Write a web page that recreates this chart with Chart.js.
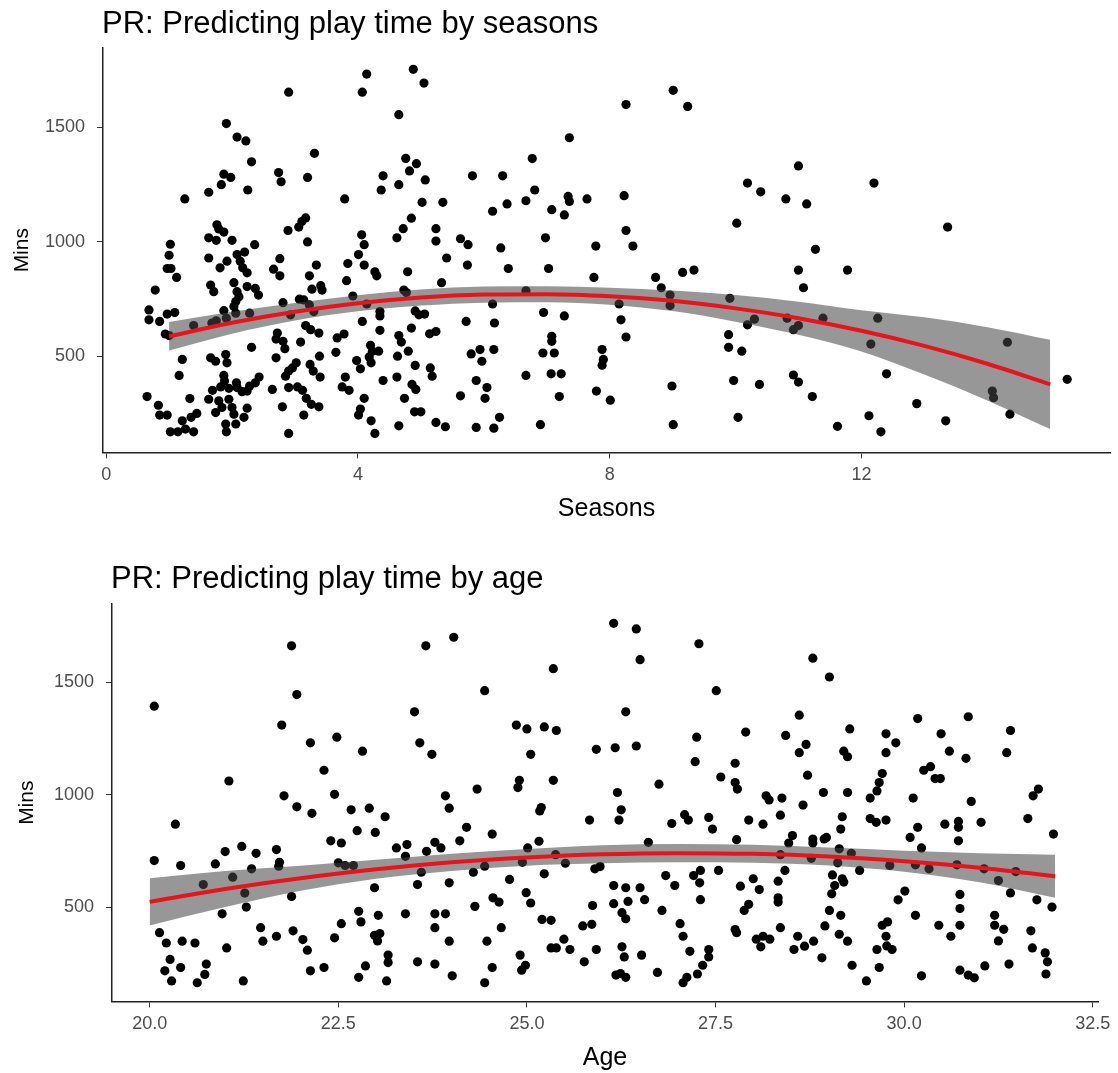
<!DOCTYPE html>
<html>
<head>
<meta charset="utf-8">
<script src="https://cdn.jsdelivr.net/npm/chart.js@4"></script>
<style>
	body { margin: 0; background: #fff; }
	.plot { position: absolute; left: 0; width: 1118px; }
	#seasonsPlot { top: 0; height: 530px; }
	#agePlot { top: 540px; height: 533px; }
</style>
</head>
<body>
<div class="plot" id="seasonsPlot"><canvas id="seasonsChart"></canvas></div>
<div class="plot" id="agePlot"><canvas id="ageChart"></canvas></div>
<script>
// [seasons, mins]
const seasonPoints = [
	[2.90,1653],[1.91,1516],[2.08,1457],[2.22,1440],[2.31,1349],[1.87,1295],[1.98,1281],[1.83,1249],[1.63,1216],[2.25,1226],
	[2.74,1302],[2.78,1262],[1.25,1187],[1.76,1074],[1.79,1056],[1.87,1042],[1.63,1017],[1.75,1006],[2.00,1006],[2.36,987],
	[1.02,989],[1.00,941],[1.63,929],[1.92,915],[1.81,886],[2.08,944],[2.20,955],[2.13,915],[2.17,886],[2.24,864],
	[0.97,883],[1.03,883],[1.12,844],[2.76,926],[2.66,880],[2.76,851],[2.89,1049],[0.78,789],[1.66,811],[1.71,782],
	[2.03,821],[2.08,782],[2.11,760],[2.24,804],[2.37,796],[2.42,767],[2.06,739],[2.03,717],[2.81,734],[0.68,702],
	[0.68,659],[0.85,652],[0.97,684],[1.09,691],[1.87,699],[1.75,655],[1.68,645],[1.91,666],[2.06,688],[2.28,688],
	[1.39,634],[0.94,597],[1.00,590],[2.72,601],[2.70,575],[2.81,565],[2.84,533],[2.31,539],[1.21,486],[1.66,493],
	[1.74,478],[1.90,507],[1.92,471],[2.70,493],[1.16,416],[1.87,416],[1.88,392],[2.43,409],[2.37,384],[2.28,370],
	[2.24,348],[2.16,345],[2.07,384],[2.08,363],[1.95,360],[1.82,366],[1.69,351],[1.63,312],[1.79,305],[1.95,312],
	[2.00,276],[2.24,273],[2.64,355],[2.90,435],[2.85,413],[2.90,363],[2.80,279],[0.65,324],[0.83,286],[0.85,243],
	[0.97,243],[1.33,315],[1.44,250],[1.35,233],[1.21,218],[1.02,170],[1.14,170],[1.26,182],[1.39,170],[1.74,254],
	[1.84,276],[1.90,204],[1.91,170],[2.06,204],[2.03,247],[2.19,233],[2.90,163],
	[4.14,1732],[4.07,1653],[4.88,1753],[5.05,1693],[4.65,1555],[3.31,1386],[3.20,1281],[4.76,1364],[4.93,1341],[4.82,1309],
	[5.07,1270],[4.40,1288],[4.37,1226],[4.65,1249],[5.82,1288],[3.79,1187],[5.02,1172],[5.35,1172],[3.17,1104],[3.11,1088],
	[3.06,1064],[4.85,1103],[4.72,1057],[4.62,1017],[5.24,1057],[5.24,1003],[5.63,1013],[5.75,987],[4.06,1030],[4.10,987],
	[4.01,944],[3.20,999],[5.41,929],[5.74,898],[3.34,898],[3.84,905],[4.10,898],[3.23,851],[3.27,793],[3.41,808],
	[3.43,789],[3.82,830],[4.27,869],[4.30,851],[4.79,869],[5.33,821],[3.07,749],[3.14,746],[3.23,724],[3.30,695],
	[3.92,763],[4.14,728],[4.73,789],[4.77,778],[4.91,698],[4.97,681],[5.06,684],[4.35,695],[4.35,676],[4.07,652],
	[5.72,652],[2.93,681],[3.17,634],[3.25,616],[3.38,601],[3.09,562],[3.67,580],[3.78,597],[4.35,613],[4.65,590],
	[4.69,562],[4.85,623],[5.14,598],[5.24,608],[3.65,517],[3.39,500],[4.20,548],[4.23,522],[4.33,522],[4.63,500],
	[4.80,522],[4.18,497],[4.21,471],[3.98,481],[4.04,445],[3.02,471],[2.96,449],[3.24,464],[3.29,435],[3.40,409],
	[3.80,409],[4.40,394],[4.62,409],[4.91,460],[5.15,449],[5.18,413],[5.80,510],[5.88,394],[3.04,366],[3.12,351],
	[3.18,316],[3.26,290],[3.38,279],[3.14,243],[3.75,366],[3.86,351],[4.10,316],[4.04,269],[4.01,243],[4.21,218],
	[4.27,163],[4.74,316],[4.86,377],[4.92,355],[4.90,257],[5.00,257],[4.65,196],[5.24,211],[5.39,192],[5.63,327],
	[5.88,189],
	[8.26,1599],[7.36,1454],[6.77,1363],[6.30,1288],[6.81,1226],[6.37,1165],[6.67,1179],[6.14,1133],[7.08,1140],[7.34,1198],
	[7.36,1176],[7.28,1117],[7.64,1187],[8.23,1201],[8.26,1049],[8.37,981],[6.98,1017],[6.27,973],[7.78,981],[6.39,883],
	[7.03,883],[7.75,844],[8.73,844],[8.82,799],[6.67,786],[6.14,728],[6.17,645],[6.95,691],[7.28,676],[8.15,728],
	[8.18,659],[8.26,584],[7.08,587],[7.08,565],[5.94,529],[5.97,478],[6.16,529],[6.94,514],[7.12,514],[7.88,529],
	[7.90,486],[7.88,461],[6.67,416],[7.07,423],[7.23,423],[6.05,363],[6.02,316],[7.20,324],[7.79,348],[8.01,308],
	[6.25,233],[6.16,186],[6.90,201],
	[9.01,1661],[9.24,1591],[11.00,1331],[10.19,1256],[10.40,1218],[10.80,1187],[11.13,1165],[10.02,1081],[11.27,967],[9.16,866],
	[9.34,876],[11.00,876],[11.78,876],[11.08,799],[8.96,767],[8.96,721],[9.91,753],[10.30,662],[10.19,637],[10.82,666],
	[11.00,634],[10.92,616],[11.39,666],[9.89,594],[9.89,539],[10.10,522],[8.99,370],[9.97,394],[10.38,377],[10.92,418],
	[11.00,387],[11.22,324],[9.01,201],[10.04,233],[11.62,194],
	[12.20,1256],[13.37,1064],[12.26,666],[12.15,553],[12.40,423],[14.32,561],[15.27,399],[14.08,348],[14.10,319],[12.88,293],
	[12.12,240],[12.31,170],[13.34,218],[14.36,247]
];

// [age, mins]
const agePoints = [
	[20.06,1394],[21.88,1663],[21.75,1310],[21.05,1061],[21.78,995],[20.34,869],[20.06,707],[20.41,685],[20.87,692],[21.00,747],
	[21.22,770],[21.41,739],[21.68,756],[21.72,699],[21.71,682],[21.35,670],[21.10,633],[20.71,600],[21.26,562],[21.88,547],
	[21.28,500],[20.96,470],[20.13,386],[20.22,340],[20.43,348],[20.60,340],[21.02,318],[21.47,408],[21.50,348],[21.68,370],
	[21.90,394],[20.27,267],[20.20,216],[20.41,231],[20.29,171],[20.75,246],[20.73,200],[20.63,163],[21.24,171],
	[21.95,1446],[23.66,1663],[24.03,1701],[23.51,1369],[22.48,1256],[22.13,1231],[23.58,1231],[22.82,1194],[23.74,1180],[22.31,1109],
	[22.45,1002],[21.95,946],[22.15,917],[22.67,933],[22.91,940],[23.12,902],[22.75,840],[22.99,832],[23.92,995],[23.97,940],
	[24.34,1025],[24.20,855],[22.40,795],[22.54,785],[23.27,763],[23.41,778],[23.39,726],[23.67,748],[23.78,788],[23.86,763],
	[24.11,795],[22.50,697],[22.59,685],[22.70,685],[23.60,655],[24.29,655],[22.98,586],[23.55,600],[23.97,608],[24.31,503],
	[22.77,481],[22.80,434],[23.03,463],[23.39,470],[23.78,470],[23.92,470],[23.78,408],[22.54,426],[22.03,355],[22.09,308],
	[22.45,363],[22.98,374],[23.05,382],[23.02,349],[23.97,348],[22.13,216],[22.31,231],[22.86,238],[22.77,187],[23.16,286],
	[23.16,253],[23.14,171],[23.55,256],[23.78,246],[24.01,194],
	[24.44,1463],[26.15,1763],[26.45,1738],[26.50,1601],[25.35,1561],[26.31,1369],[24.86,1310],[25.00,1293],[25.23,1302],[25.39,1286],
	[25.05,1180],[25.92,1202],[26.17,1209],[26.45,1217],[24.90,1064],[24.88,1032],[25.35,1064],[26.75,1047],[26.20,1010],[26.25,933],
	[26.22,887],[25.19,943],[25.17,928],[25.83,887],[24.54,825],[25.16,793],[25.01,763],[26.61,788],[24.44,682],[24.94,699],
	[25.51,695],[25.38,733],[25.90,670],[25.97,680],[25.23,648],[24.77,623],[26.84,640],[24.55,541],[24.63,522],[24.99,564],
	[25.05,518],[26.15,596],[26.31,586],[26.50,586],[26.56,533],[26.15,515],[26.34,525],[25.87,507],[26.79,485],[26.26,475],
	[26.31,448],[25.20,445],[25.32,441],[25.74,416],[25.86,423],[24.66,408],[24.47,348],[25.49,357],[25.32,318],[25.39,318],
	[25.57,311],[25.92,311],[26.26,323],[26.29,278],[26.52,286],[24.91,286],[24.98,241],[24.93,219],[24.54,231],[25.76,256],
	[26.18,197],[26.24,204],[26.31,187],[26.73,209],[24.44,163],
	[27.28,1672],[28.79,1608],[29.01,1524],[27.51,1463],[28.61,1354],[27.90,1279],[27.25,1256],[28.43,1264],[28.70,1224],[28.61,1187],
	[29.28,1293],[29.20,1194],[29.25,1169],[27.23,1147],[27.76,1140],[27.57,1079],[27.76,1054],[27.79,1025],[28.72,1087],[28.93,1010],
	[29.25,1010],[28.17,995],[28.21,977],[28.38,985],[28.66,954],[26.92,872],[27.09,911],[27.14,887],[27.41,899],[27.46,847],
	[27.94,887],[28.13,869],[28.36,909],[29.18,902],[29.16,847],[27.78,800],[28.52,818],[28.47,785],[28.79,803],[28.79,785],
	[28.94,803],[28.97,810],[29.14,759],[29.30,739],[28.36,733],[28.77,717],[29.12,697],[27.54,663],[28.42,663],[29.41,663],
	[26.96,596],[27.21,640],[27.30,663],[27.29,608],[27.30,533],[27.83,593],[28.00,626],[28.08,578],[28.33,615],[28.33,541],
	[28.33,522],[29.05,643],[29.08,596],[29.18,626],[29.20,611],[29.04,559],[27.94,512],[27.88,485],[29.01,485],[29.16,463],
	[27.03,426],[27.07,370],[27.76,400],[27.78,386],[28.36,408],[28.95,416],[28.04,357],[28.10,323],[28.13,370],[28.22,357],
	[28.59,370],[28.54,311],[28.68,326],[28.80,348],[29.14,379],[29.25,348],[27.16,303],[27.41,311],[27.41,278],[27.33,241],
	[27.26,202],[27.12,187],[27.07,163],[28.91,274],[29.31,241],
	[29.55,985],[29.55,894],[29.63,877],[29.76,887],[29.64,1017],[29.67,1054],[29.71,1094],[29.76,1271],[29.76,1187],[29.89,1231],
	[30.18,1339],[30.49,1271],[30.60,1194],[30.85,1347],[30.82,1162],[31.41,1286],[31.36,1187],[30.26,1109],[30.35,1125],[30.41,1072],
	[30.48,1072],[30.12,985],[30.89,970],[31.71,995],[31.78,1025],[31.64,894],[31.98,825],[30.54,869],[30.72,881],[30.72,855],
	[31.02,877],[30.18,855],[30.08,810],[30.72,795],[30.23,763],[29.81,685],[30.15,688],[30.33,670],[30.70,688],[31.06,670],
	[31.48,658],[31.25,618],[31.41,563],[31.76,532],[31.96,500],[30.01,571],[29.92,532],[30.74,556],[30.74,493],[30.15,463],
	[30.46,419],[30.74,419],[30.62,370],[31.20,463],[31.20,419],[31.32,401],[31.25,349],[31.68,394],[31.70,318],[31.87,296],
	[31.90,256],[31.88,202],[29.71,419],[29.78,434],[29.76,370],[29.77,327],[29.84,311],[29.64,311],[29.67,231],[29.50,171],
	[30.23,194],[30.74,219],[30.85,197],[30.93,185],[31.07,238],[31.39,246]
];

// quadratic fit with confidence band
const seasonFitX = [1,2,3,4,5,6,7,8,9,10,11,12,13,14,15];
const seasonFit = [587,646,694,731,756,769,771,762,742,709,666,611,545,467,377];
const seasonUpper = [649,694,732,766,791,804,806,799,787,767,738,701,670,627,572];
const seasonLower = [525,598,656,696,721,734,736,725,697,651,594,521,420,307,182];

const ageFitX = [20,21,22,23,24,25,26,27,28,29,30,31,32];
const ageFit = [523,580,628,668,699,721,735,740,737,725,704,675,637];
const ageUpper = [628,660,684,710,737,758,775,781,777,765,751,740,733];
const ageLower = [418,500,572,626,661,684,695,699,697,685,657,610,541];

const seasonTicks = [0,4,8,12];
const seasonTickLabels = ['0','4','8','12'];
const ageTicks = [20,22.5,25,27.5,30,32.5];
const ageTickLabels = ['20.0','22.5','25.0','27.5','30.0','32.5'];
const minsTicks = [500,1000,1500];
const minsTickLabels = ['500','1000','1500'];

const FONT = '"Liberation Sans", Arial, sans-serif';
Chart.defaults.font.family = FONT;

const plotTitle = {
	id: 'plotTitle',
	afterDraw(chart, args, opts) {
		const ctx = chart.ctx;
		ctx.save();
		ctx.font = '31px ' + FONT;
		ctx.fillStyle = '#000';
		ctx.textBaseline = 'alphabetic';
		ctx.fillText(opts.text, chart.chartArea.left - 1, opts.y);
		ctx.restore();
	}
};

const pairs = (xs, ys) => xs.map((x, i) => ({x, y: ys[i]}));

function buildChart(id, p) {
	const label = (ticks, labels) => v => labels[ticks.indexOf(v)];
	return new Chart(document.getElementById(id), {
		type: 'scatter',
		plugins: [plotTitle],
		data: {
			datasets: [
				{
					data: p.points.map(([x, y]) => ({x, y})),
					backgroundColor: '#000',
					borderColor: '#000',
					borderWidth: 0,
					pointRadius: 4.6,
					order: 3
				},
				{
					type: 'line',
					data: pairs(p.fitX, p.upper),
					fill: '+1',
					backgroundColor: 'rgba(70,70,70,0.56)',
					borderColor: 'rgba(0,0,0,0)',
					pointRadius: 0,
					cubicInterpolationMode: 'monotone',
					order: 2
				},
				{
					type: 'line',
					data: pairs(p.fitX, p.lower),
					fill: false,
					borderColor: 'rgba(0,0,0,0)',
					pointRadius: 0,
					cubicInterpolationMode: 'monotone',
					order: 2
				},
				{
					type: 'line',
					data: pairs(p.fitX, p.fit),
					fill: false,
					borderColor: '#e8141b',
					borderWidth: 4,
					pointRadius: 0,
					cubicInterpolationMode: 'monotone',
					order: 0
				}
			]
		},
		options: {
			responsive: true,
			maintainAspectRatio: false,
			animation: false,
			layout: { padding: p.padding },
			plugins: {
				legend: { display: false },
				tooltip: { enabled: false },
				plotTitle: { text: p.title, y: p.titleY }
			},
			scales: {
				x: {
					type: 'linear',
					min: p.xMin,
					max: p.xMax,
					afterBuildTicks: s => { s.ticks = p.xTicks.map(v => ({value: v})); },
					ticks: { callback: label(p.xTicks, p.xTickLabels), color: '#4d4d4d', font: { size: 18 }, padding: 6, maxRotation: 0, autoSkip: false },
					grid: { drawOnChartArea: false, tickLength: 6, tickColor: '#333' },
					border: { color: '#222', width: 1.5 },
					title: { display: true, text: p.xTitle, color: '#000', font: { size: 25 }, padding: { top: 2, bottom: 0 } }
				},
				y: {
					type: 'linear',
					min: p.yMin,
					max: p.yMax,
					afterBuildTicks: s => { s.ticks = minsTicks.map(v => ({value: v})); },
					afterFit: s => { s.width = p.yWidth; },
					ticks: { callback: label(minsTicks, minsTickLabels), color: '#4d4d4d', font: { size: 18 }, padding: 12, autoSkip: false },
					grid: { drawOnChartArea: false, tickLength: 6, tickColor: '#333' },
					border: { color: '#222', width: 1.5 },
					title: { display: true, text: 'Mins', color: '#000', font: { size: 21 }, padding: { top: p.yTitlePad, bottom: 0 } }
				}
			}
		}
	});
}

buildChart('seasonsChart', {
	title: 'PR: Predicting play time by seasons',
	titleY: 33,
	points: seasonPoints,
	fitX: seasonFitX, fit: seasonFit, upper: seasonUpper, lower: seasonLower,
	xMin: -0.05, xMax: 15.95,
	xTicks: seasonTicks, xTickLabels: seasonTickLabels,
	xTitle: 'Seasons',
	yMin: 80, yMax: 1846,
	yWidth: 103,
	yTitlePad: 10,
	padding: { top: 48, right: 8, bottom: 6, left: 0 }
});

buildChart('ageChart', {
	title: 'PR: Predicting play time by age',
	titleY: 48,
	points: agePoints,
	fitX: ageFitX, fit: ageFit, upper: ageUpper, lower: ageLower,
	xMin: 19.5, xMax: 32.57,
	xTicks: ageTicks, xTickLabels: ageTickLabels,
	xTitle: 'Age',
	yMin: 80, yMax: 1849,
	yWidth: 112,
	yTitlePad: 15,
	padding: { top: 64, right: 20, bottom: 0, left: 0 }
});
</script>
</body>
</html>
